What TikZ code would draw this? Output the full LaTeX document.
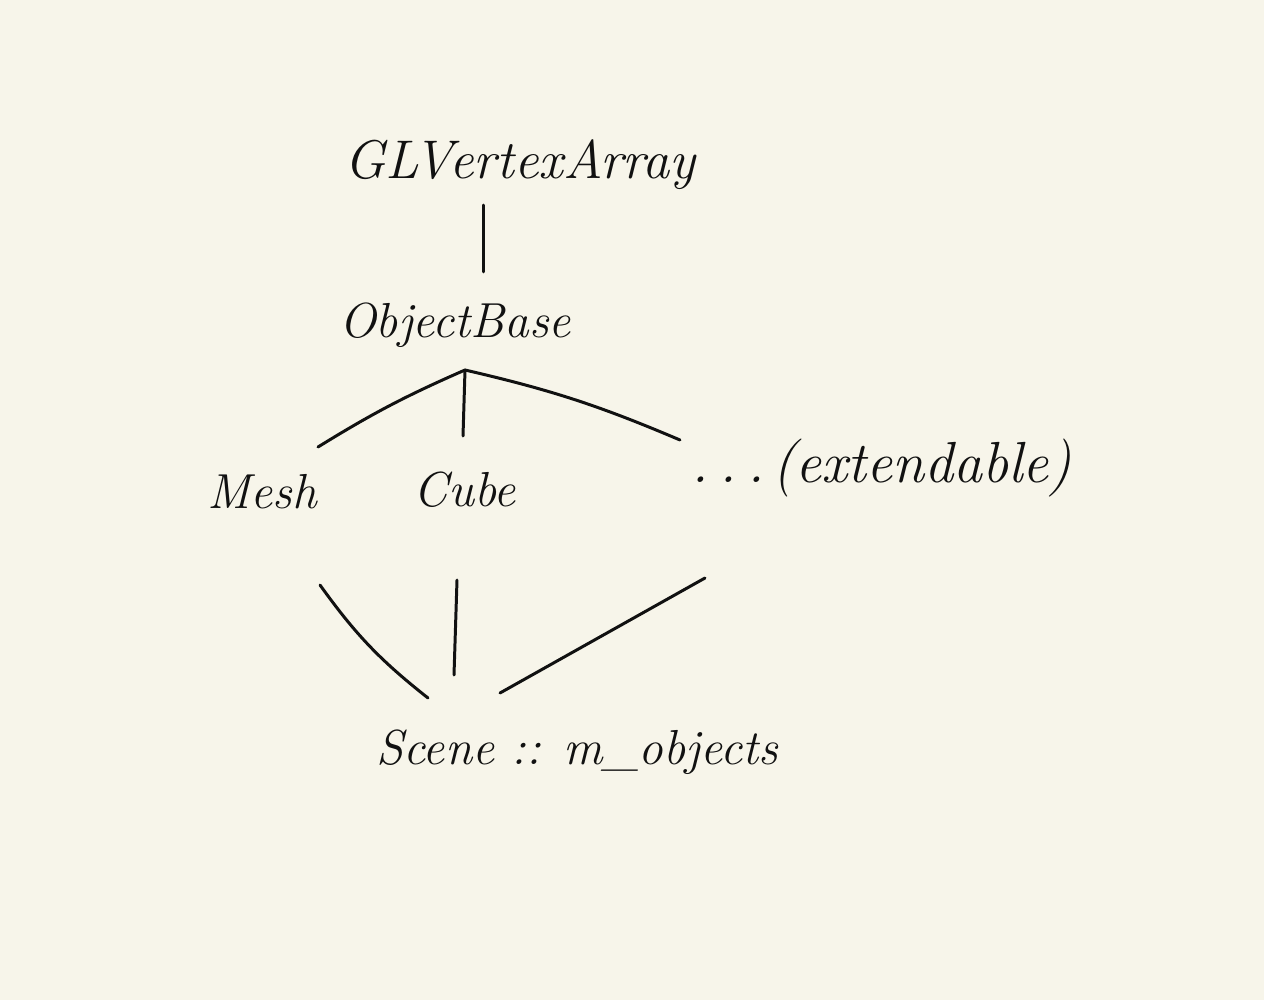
\documentclass[tikz,border=0pt]{standalone}
\usepackage{xcolor}
\definecolor{paper}{HTML}{F7F5EA}
\definecolor{ink}{HTML}{111111}
\begin{document}
\begin{tikzpicture}[x=0.02cm,y=-0.02cm,
  lbl/.style={inner sep=0pt, text=ink, font=\itshape\fontsize{28}{32}\selectfont},
  link/.style={draw=ink, line width=1.7pt, line cap=round}]
\fill[paper] (0,0) rectangle (1264,1000);
\useasboundingbox (0,0) rectangle (1264,1000);
\node[lbl, font=\itshape\fontsize{31}{36}\selectfont] (gl) at (520,165) {GLVertexArray};
\node[lbl] (ob) at (455,325) {ObjectBase};
\node[lbl] (mesh) at (262,492) {Mesh};
\node[lbl] (cube) at (465,490) {Cube};
\node[lbl, font=\itshape\fontsize{33}{36}\selectfont] (ext) at (882,468) {.\hspace{6pt}.\hspace{6pt}.\hspace{4pt}(extendable)};
\node[lbl] (scene) at (577,752) {Scene :: m\_objects};
% GLVertexArray -- ObjectBase
\draw[link] ([shift={(-37,40)}]gl.center) -- ([shift={(28,-53)}]ob.center);
% ObjectBase -- children
\coordinate (obj) at ([shift={(10,45)}]ob.center);
\draw[link] (obj) to[bend right=4] ([shift={(56,-45)}]mesh.center);
\draw[link] (obj) -- ([shift={(-2,-54)}]cube.center);
\draw[link] (obj) to[bend left=5] ([shift={(-202,-28)}]ext.center);
% children -- Scene
\draw[link] ([shift={(58,93)}]mesh.center) to[bend right=8] ([shift={(-149,-54)}]scene.center);
\draw[link] ([shift={(-8,90)}]cube.center) -- ([shift={(-123,-77)}]scene.center);
\draw[link] ([shift={(-177,110)}]ext.center) -- ([shift={(-77,-59)}]scene.center);
\end{tikzpicture}
\end{document}
